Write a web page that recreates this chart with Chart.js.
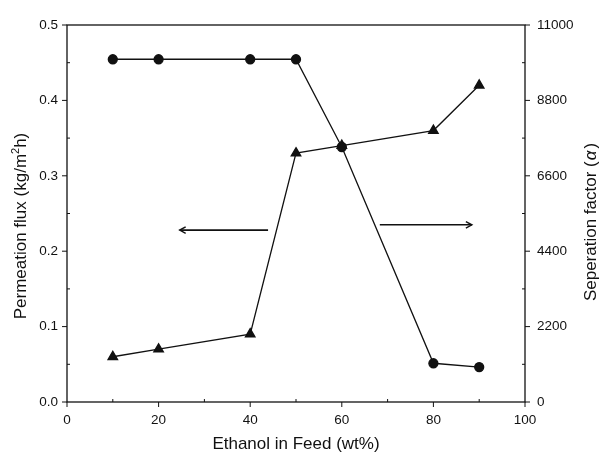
<!DOCTYPE html>
<html><head><meta charset="utf-8">
<script src="https://cdn.jsdelivr.net/npm/chart.js@4"></script>
<style>html,body{margin:0;padding:0;background:#fff}#wrap{width:600px;height:454px}</style>
</head><body><div id="wrap"><canvas id="c"></canvas></div>
<script>
const ethanol = [10, 20, 40, 50, 60, 80, 90];
const flux = [0.06, 0.07, 0.09, 0.33, 0.34, 0.36, 0.42];
const sepFactor = [10000, 10000, 10000, 10000, 7440, 1130, 1020];
const xTickLabels = [0, 20, 40, 60, 80, 100];
const fluxTickLabels = [0.0, 0.1, 0.2, 0.3, 0.4, 0.5];
const sepTickLabels = [0, 2200, 4400, 6600, 8800, 11000];
// arrows in data units: [x start, x end (head), y in flux units]
const arrowLeft = [43.9, 24.6, 0.228];
const arrowRight = [68.3, 88.4, 0.235];

const FONT = '"Liberation Sans", Arial, sans-serif';
const TITLE = 17;
const TICK = 13.5;

function drawParts(ctx, parts, cx, cy, rot) {
  ctx.save();
  ctx.translate(cx, cy);
  ctx.rotate(rot);
  ctx.textBaseline = 'alphabetic';
  ctx.textAlign = 'left';
  let w = 0;
  parts.forEach(p => { ctx.font = p.font; w += ctx.measureText(p.t).width + (p.gap || 0); });
  let x = -w / 2;
  const base = TITLE * 0.36;
  parts.forEach(p => {
    ctx.font = p.font;
    ctx.fillText(p.t, x, base + (p.dy || 0));
    x += ctx.measureText(p.t).width + (p.gap || 0);
  });
  ctx.restore();
}

const framePlugin = {
  id: 'frame',
  afterDraw(chart) {
    const {ctx, chartArea: a, scales} = chart;
    ctx.save();
    ctx.strokeStyle = '#111';
    ctx.lineWidth = 1.3;
    ctx.strokeRect(a.left, a.top, a.right - a.left, a.bottom - a.top);
    ctx.lineWidth = 1;
    for (let v = 0; v <= 100; v += 10) {
      const px = scales.x.getPixelForValue(v);
      ctx.beginPath();
      if (v % 20 === 0) { ctx.moveTo(px, a.bottom); ctx.lineTo(px, a.bottom + 5); }
      else { ctx.moveTo(px, a.bottom); ctx.lineTo(px, a.bottom - 3); }
      ctx.stroke();
    }
    for (let i = 0; i <= 10; i++) {
      const py = scales.y.getPixelForValue(i * 0.05);
      ctx.beginPath();
      if (i % 2 === 0) { ctx.moveTo(a.left, py); ctx.lineTo(a.left - 5, py); }
      else { ctx.moveTo(a.left, py); ctx.lineTo(a.left + 3, py); }
      ctx.stroke();
    }
    for (let i = 0; i <= 10; i++) {
      const py = scales.y2.getPixelForValue(i * 1100);
      ctx.beginPath();
      if (i % 2 === 0) { ctx.moveTo(a.right, py); ctx.lineTo(a.right + 5, py); }
      else { ctx.moveTo(a.right, py); ctx.lineTo(a.right - 3, py); }
      ctx.stroke();
    }
    const drawArrow = (arr) => {
      const x1 = scales.x.getPixelForValue(arr[0]);
      const x2 = scales.x.getPixelForValue(arr[1]);
      const y = scales.y.getPixelForValue(arr[2]);
      ctx.lineWidth = 1.6;
      ctx.beginPath(); ctx.moveTo(x1, y); ctx.lineTo(x2, y); ctx.stroke();
      const d = Math.sign(x2 - x1);
      ctx.lineWidth = 1.4;
      ctx.beginPath();
      ctx.moveTo(x2 - d * 6, y - 3.2); ctx.lineTo(x2, y); ctx.lineTo(x2 - d * 6, y + 3.2);
      ctx.stroke();
    };
    drawArrow(arrowLeft);
    drawArrow(arrowRight);
    ctx.fillStyle = '#111';
    const f = TITLE + 'px ' + FONT;
    const fs = Math.round(TITLE * 0.62) + 'px ' + FONT;
    const fi = 'italic ' + TITLE + 'px ' + FONT;
    drawParts(ctx, [
      {t: 'Permeation flux (kg/m', font: f},
      {t: '2', font: fs, dy: -TITLE * 0.42},
      {t: 'h)', font: f}
    ], 20, 226, -Math.PI / 2);
    drawParts(ctx, [
      {t: 'Seperation factor (', font: f, gap: 1},
      {t: 'α', font: fi, gap: 2},
      {t: ')', font: f}
    ], 590, 222, -Math.PI / 2);
    drawParts(ctx, [{t: 'Ethanol in Feed (wt%)', font: f}], (a.left + a.right) / 2, 443, 0);
    ctx.restore();
  }
};

new Chart(document.getElementById('c'), {
  type: 'line',
  data: {
    datasets: [
      {
        label: 'Permeation flux',
        data: ethanol.map((e, i) => ({x: e, y: flux[i]})),
        yAxisID: 'y',
        borderColor: '#111', backgroundColor: '#111', borderWidth: 1.3,
        pointStyle: 'triangle', pointRadius: 5.5, tension: 0
      },
      {
        label: 'Seperation factor',
        data: ethanol.map((e, i) => ({x: e, y: sepFactor[i]})),
        yAxisID: 'y2',
        borderColor: '#111', backgroundColor: '#111', borderWidth: 1.3,
        pointStyle: 'circle', pointRadius: 4.5, tension: 0
      }
    ]
  },
  options: {
    responsive: true, maintainAspectRatio: false, animation: false,
    layout: {padding: {top: 25, left: 0, right: 0, bottom: 0}},
    plugins: {legend: {display: false}, tooltip: {enabled: false}},
    scales: {
      x: {
        type: 'linear', min: 0, max: 100,
        afterBuildTicks: s => { s.ticks = xTickLabels.map(v => ({value: v})); },
        afterFit: s => { s.height = 52; },
        grid: {display: false, drawTicks: false}, border: {display: false},
        ticks: {color: '#111', font: {family: FONT, size: TICK}, padding: 10, maxRotation: 0,
          callback: v => String(v)}
      },
      y: {
        type: 'linear', position: 'left', min: 0, max: 0.5,
        afterBuildTicks: s => { s.ticks = fluxTickLabels.map(v => ({value: v})); },
        afterFit: s => { s.width = 67; },
        grid: {display: false, drawTicks: false}, border: {display: false},
        ticks: {color: '#111', font: {family: FONT, size: TICK}, padding: 9,
          callback: v => v.toFixed(1)}
      },
      y2: {
        type: 'linear', position: 'right', min: 0, max: 11000,
        afterBuildTicks: s => { s.ticks = sepTickLabels.map(v => ({value: v})); },
        afterFit: s => { s.width = 75; },
        grid: {display: false, drawTicks: false}, border: {display: false},
        ticks: {color: '#111', font: {family: FONT, size: TICK}, padding: 12,
          callback: v => String(v)}
      }
    }
  },
  plugins: [framePlugin]
});
</script></body></html>
